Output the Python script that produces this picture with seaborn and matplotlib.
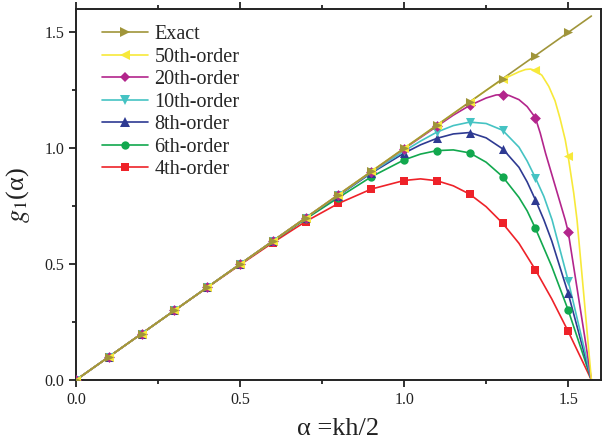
import numpy as np
import pandas as pd
import matplotlib
matplotlib.use('Agg')
import matplotlib.pyplot as plt
import seaborn as sns
from matplotlib.lines import Line2D
from matplotlib.ticker import MultipleLocator

sns.set_theme(style='white')
plt.rcParams['font.family'] = ['Liberation Serif', 'DejaVu Serif']
plt.rcParams['mathtext.fontset'] = 'stix'

# marker positions (alpha = kh/2)
alpha_mk = [0.0, 0.1, 0.2, 0.3, 0.4, 0.5, 0.6, 0.7, 0.8, 0.9, 1.0, 1.1, 1.2, 1.3, 1.4, 1.5]

# values at each marker
exact_mk = [0.0, 0.1, 0.2, 0.3, 0.4, 0.5, 0.6, 0.7, 0.8, 0.9, 1.0, 1.1, 1.2, 1.3, 1.4, 1.5]
o50_mk = [0.0, 0.1, 0.2, 0.3, 0.4, 0.5, 0.6, 0.7, 0.8, 0.9, 1.0, 1.1, 1.2, 1.297, 1.336, 0.965]
o20_mk = [0.0, 0.1, 0.2, 0.3, 0.4, 0.5, 0.6, 0.7, 0.8, 0.899, 0.998, 1.095, 1.185, 1.232, 1.132, 0.640]
o10_mk = [0.0, 0.1, 0.2, 0.3, 0.4, 0.5, 0.6, 0.7, 0.798, 0.896, 0.988, 1.070, 1.113, 1.078, 0.873, 0.429]
o8_mk = [0.0, 0.1, 0.2, 0.3, 0.4, 0.5, 0.6, 0.699, 0.796, 0.893, 0.979, 1.043, 1.068, 0.998, 0.778, 0.374]
o6_mk = [0.0, 0.1, 0.2, 0.3, 0.4, 0.5, 0.598, 0.695, 0.787, 0.877, 0.950, 0.990, 0.980, 0.878, 0.655, 0.302]
o4_mk = [0.0, 0.1, 0.2, 0.3, 0.399, 0.497, 0.593, 0.684, 0.762, 0.824, 0.861, 0.860, 0.802, 0.677, 0.476, 0.210]

# extra points (between markers, up to pi/2)
alpha_end = 1.5708
exact_ex_a = [alpha_end]
exact_ex = [1.5708]
o50_ex_a = [1.25, 1.35, 1.37, 1.385, 1.42, 1.441, 1.46, 1.475, 1.491, 1.517, 1.527, 1.55, alpha_end]
o50_ex = [1.25, 1.33, 1.34, 1.342, 1.315, 1.267, 1.205, 1.13, 1.037, 0.806, 0.691, 0.33, 0.0]
o20_ex_a = [1.15, 1.25, 1.28, 1.32, 1.35, 1.375, 1.415, 1.431, 1.461, 1.491, 1.55, alpha_end]
o20_ex = [1.143, 1.217, 1.23, 1.228, 1.21, 1.18, 1.065, 0.979, 0.835, 0.691, 0.19, 0.0]
o10_ex_a = [1.05, 1.15, 1.25, 1.35, 1.375, 1.426, 1.451, 1.55, alpha_end]
o10_ex = [1.031, 1.098, 1.107, 1.005, 0.945, 0.792, 0.691, 0.13, 0.0]
o8_ex_a = [1.05, 1.15, 1.25, 1.35, 1.375, 1.426, 1.45, 1.55, alpha_end]
o8_ex = [1.015, 1.062, 1.045, 0.918, 0.855, 0.691, 0.60, 0.11, 0.0]
o6_ex_a = [1.05, 1.15, 1.25, 1.35, 1.375, 1.45, 1.55, alpha_end]
o6_ex = [0.975, 0.993, 0.94, 0.788, 0.73, 0.49, 0.09, 0.0]
o4_ex_a = [1.05, 1.15, 1.25, 1.35, 1.45, 1.55, alpha_end]
o4_ex = [0.868, 0.838, 0.748, 0.590, 0.350, 0.062, 0.0]

names = ['Exact', '50th-order', '20th-order', '10th-order', '8th-order', '6th-order', '4th-order']
colors = ['#A0953A', '#F7E93A', '#B3258C', '#45C3C3', '#2E3A92', '#12A84E', '#EE2229']
markers = ['>', '<', 'D', 'v', '^', 'o', 's']
msizes = [6.5, 6.5, 5.5, 6.5, 6.5, 6, 5.5]

mk_vals = [exact_mk, o50_mk, o20_mk, o10_mk, o8_mk, o6_mk, o4_mk]
ex_a = [exact_ex_a, o50_ex_a, o20_ex_a, o10_ex_a, o8_ex_a, o6_ex_a, o4_ex_a]
ex_v = [exact_ex, o50_ex, o20_ex, o10_ex, o8_ex, o6_ex, o4_ex]

fig = plt.figure(figsize=(6.04, 4.41), dpi=100)
ax = fig.add_axes([0.1258, 0.1383, 0.8692, 0.8407])

# draw from bottom curve up so Exact sits on top
for i in reversed(range(len(names))):
    line = pd.DataFrame({'a': alpha_mk + ex_a[i], 'g': mk_vals[i] + ex_v[i]}).sort_values('a')
    sns.lineplot(data=line, x='a', y='g', ax=ax, color=colors[i], lw=1.2,
                 sort=False, estimator=None, legend=False)
    pts = pd.DataFrame({'a': alpha_mk, 'g': mk_vals[i]})
    sns.scatterplot(data=pts, x='a', y='g', ax=ax, color=colors[i], marker=markers[i],
                    s=msizes[i] ** 2, linewidth=0, legend=False, zorder=3)

ax.set_xlim(0, 1.6)
ax.set_ylim(0, 1.6)
ax.xaxis.set_major_locator(MultipleLocator(0.5))
ax.xaxis.set_minor_locator(MultipleLocator(0.25))
ax.yaxis.set_major_locator(MultipleLocator(0.5))
ax.yaxis.set_minor_locator(MultipleLocator(0.25))
ax.set_xticks([0.0, 0.5, 1.0, 1.5])
ax.set_xticklabels(['0.0', '0.5', '1.0', '1.5'])
ax.set_yticks([0.0, 0.5, 1.0, 1.5])
ax.set_yticklabels(['0.0', '0.5', '1.0', '1.5'])
ax.tick_params(which='both', direction='out', color='#222222', width=1.3,
               labelsize=11.5, labelcolor='#222222', bottom=True, left=True)
ax.tick_params(which='major', length=5)
ax.tick_params(which='minor', length=3)
ax.tick_params(which='both', top=True, right=False)
for s in ax.spines.values():
    s.set_color('#222222')
    s.set_linewidth(1.4)

ax.set_xlabel('α =kh/2', fontsize=19, color='#222222', labelpad=7)
ax.set_ylabel('$g_1$(α)', fontsize=19, color='#222222', labelpad=9)

handles = [Line2D([0], [0], color=colors[i], lw=1.2, marker=markers[i], markersize=msizes[i],
                  markeredgewidth=0) for i in range(len(names))]
ax.legend(handles, names, loc='upper left', frameon=False, fontsize=14.5,
          handlelength=2.3, handletextpad=0.3, labelspacing=0.17, borderpad=0.0,
          bbox_to_anchor=(0.0495, 0.957), borderaxespad=0.0)

fig.savefig('out.png', dpi=100)
